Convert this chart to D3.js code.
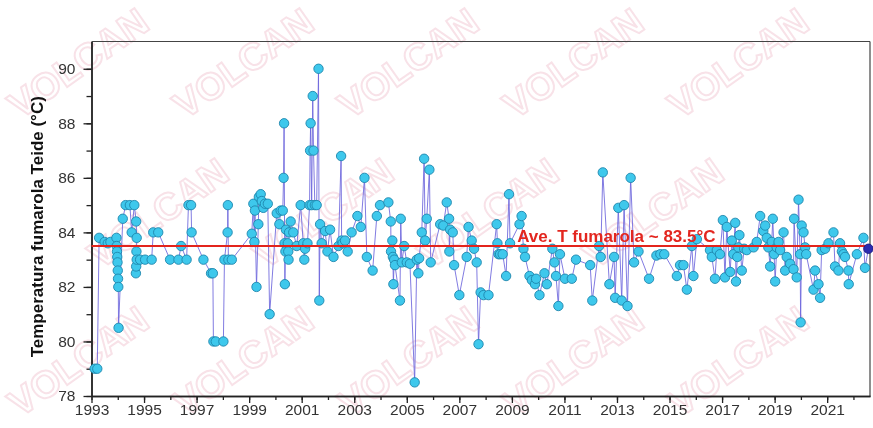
<!DOCTYPE html>
<html>
<head>
<meta charset="utf-8">
<script src="https://cdn.jsdelivr.net/npm/d3@7"></script>
<style>
  html, body { margin: 0; padding: 0; background: #ffffff; }
  svg { display: block; }
</style>
</head>
<body>
<svg id="chart" width="873" height="428"></svg>
<script>
// Fumarole temperature readings, Teide (decimal year, °C)
const sampleDates = [
  1993.12, 1993.22, 1993.29, 1993.50, 1993.62, 1993.72, 1993.95, 1993.96, 1993.97, 1993.98,
  1993.99, 1994.00, 1994.01, 1994.02, 1994.03, 1994.19, 1994.30, 1994.46, 1994.53, 1994.63,
  1994.70, 1994.72, 1994.71, 1994.69, 1994.70, 1994.72, 1994.85, 1995.04, 1995.29, 1995.35,
  1995.54, 1995.99, 1996.31, 1996.41, 1996.62, 1996.69, 1996.79, 1996.81, 1997.26, 1997.55,
  1997.62, 1997.64, 1997.73, 1998.02, 1998.06, 1998.18, 1998.19, 1998.21, 1998.34,
  1999.10, 1999.16, 1999.20, 1999.22, 1999.28, 1999.35, 1999.37, 1999.44, 1999.48, 1999.54,
  1999.60, 1999.71, 1999.78, 2000.05, 2000.15, 2000.20, 2000.28, 2000.31, 2000.33, 2000.35,
  2000.36, 2000.38, 2000.40, 2000.47, 2000.49, 2000.50, 2000.52, 2000.58, 2000.68, 2000.81,
  2000.96, 2001.06, 2001.10, 2001.13, 2001.22, 2001.30, 2001.32, 2001.34, 2001.38, 2001.42,
  2001.45, 2001.50, 2001.57, 2001.64, 2001.67, 2001.70, 2001.76, 2001.89, 2001.98, 2002.08,
  2002.21, 2002.40, 2002.50, 2002.52, 2002.56, 2002.65, 2002.75, 2002.90, 2003.12, 2003.25,
  2003.39, 2003.48, 2003.70, 2003.86, 2003.98, 2004.30, 2004.39, 2004.40, 2004.45, 2004.47,
  2004.49, 2004.52, 2004.55, 2004.74, 2004.77, 2004.81, 2004.90, 2005.00, 2005.12, 2005.30,
  2005.38, 2005.44, 2005.47, 2005.57, 2005.66, 2005.70, 2005.76, 2005.86, 2005.91, 2006.27,
  2006.39, 2006.52, 2006.61, 2006.62, 2006.65, 2006.75, 2006.80, 2007.00, 2007.28, 2007.35,
  2007.47, 2007.56, 2007.66, 2007.73, 2007.81, 2007.92, 2008.11, 2008.42, 2008.45, 2008.49,
  2008.55, 2008.65, 2008.78, 2008.89, 2008.93, 2009.29, 2009.37, 2009.44, 2009.50, 2009.67,
  2009.76, 2009.88, 2009.92, 2010.05, 2010.24, 2010.33, 2010.54, 2010.62, 2010.68, 2010.77,
  2010.83, 2011.02, 2011.28, 2011.44, 2011.98, 2012.06, 2012.32, 2012.38, 2012.46, 2012.71,
  2012.89, 2012.93, 2013.05, 2013.18, 2013.27, 2013.40, 2013.52, 2013.65, 2013.82, 2014.22,
  2014.50, 2014.65, 2014.80, 2015.28, 2015.40, 2015.53, 2015.66, 2015.85, 2015.91, 2016.04,
  2016.54, 2016.61, 2016.73, 2016.80, 2016.92, 2017.03, 2017.11, 2017.18, 2017.31, 2017.37,
  2017.43, 2017.50, 2017.53, 2017.58, 2017.62, 2017.66, 2017.75, 2017.84, 2017.94, 2018.20,
  2018.32, 2018.45, 2018.57, 2018.64, 2018.70, 2018.76, 2018.83, 2018.89, 2018.93, 2018.98,
  2019.02, 2019.08, 2019.15, 2019.21, 2019.34, 2019.40, 2019.46, 2019.59, 2019.72, 2019.74,
  2019.84, 2019.91, 2019.97, 2019.99, 2020.03, 2020.10, 2020.16, 2020.20, 2020.48, 2020.54,
  2020.67, 2020.73, 2020.79, 2020.92, 2021.05, 2021.24, 2021.30, 2021.43, 2021.49, 2021.56,
  2021.62, 2021.68, 2021.81, 2021.82, 2022.13, 2022.38, 2022.44
];
const temperatures = [
  79.0, 79.0, 83.8, 83.65, 83.6, 83.65, 83.8, 83.5, 83.3, 83.1,
  82.9, 82.6, 82.3, 82.0, 80.5, 84.5, 85.0, 85.0, 84.0, 85.0,
  84.4, 83.8, 83.3, 82.5, 82.75, 83.0, 83.0, 83.0, 83.0, 84.0,
  84.0, 83.0, 83.0, 83.5, 83.0, 85.0, 85.0, 84.0, 83.0, 82.5,
  82.5, 80.0, 80.0, 80.0, 83.0, 84.0, 85.0, 83.0, 83.0,
  83.95, 85.05, 83.65, 84.8, 82.0, 84.3, 85.3, 85.4, 85.15, 84.9,
  85.05, 85.05, 81.0, 84.7, 84.3, 84.8, 84.8, 86.0, 88.0, 83.6,
  82.1, 83.3, 84.1, 83.6, 83.3, 83.0, 84.0, 84.4, 84.0, 83.5,
  85.0, 83.6, 83.0, 83.4, 83.6, 85.0, 87.0, 88.0, 85.0, 89.0,
  87.0, 85.0, 85.0, 90.0, 81.5, 84.3, 83.6, 84.05, 83.3, 84.1,
  83.1, 83.5, 86.8, 83.7, 83.6, 83.7, 83.3, 84.0, 84.6, 84.2,
  86.0, 83.1, 82.6, 84.6, 85.0, 85.1, 84.4, 83.3, 83.7, 83.1,
  82.1, 83.0, 82.8, 81.5, 84.5, 82.9, 83.5, 82.9, 82.85, 78.5,
  83.0, 82.5, 83.05, 84.0, 86.7, 83.7, 84.5, 86.3, 82.9, 84.3,
  84.25, 85.1, 84.5, 83.3, 84.1, 84.0, 82.8, 81.7, 83.1, 84.2,
  83.7, 83.4, 82.9, 79.9, 81.8, 81.7, 81.7, 84.3, 83.6, 83.2,
  83.2, 83.2, 82.4, 85.4, 83.6, 84.3, 84.6, 83.4, 83.1, 82.4,
  82.25, 82.1, 82.3, 81.7, 82.5, 82.1, 83.4, 82.9, 82.4, 81.3,
  83.2, 82.3, 82.3, 83.0, 82.8, 81.5, 83.5, 83.1, 86.2, 82.1,
  83.1, 81.6, 84.9, 81.5, 85.0, 81.3, 86.0, 82.9, 83.3, 82.3,
  83.15, 83.2, 83.2, 82.4, 82.8, 82.8, 81.9, 83.5, 82.4, 83.75,
  83.35, 83.1, 82.3, 83.35, 83.2, 84.45, 82.35, 84.2, 82.55, 83.7,
  83.2, 84.35, 82.2, 83.1, 83.45, 83.9, 82.6, 83.4, 83.35, 83.45,
  83.65, 84.6, 84.05, 84.25, 83.8, 83.45, 82.75, 83.65, 84.5, 83.2,
  82.2, 83.45, 83.65, 83.35, 84.0, 82.6, 83.1, 82.85, 82.65, 84.5,
  82.35, 85.2, 83.2, 80.7, 84.25, 84.0, 83.45, 83.2, 81.9, 82.6,
  82.1, 81.6, 83.35, 83.4, 83.6, 84.0, 82.75, 82.6, 83.6, 83.3,
  83.2, 83.1, 82.6, 82.1, 83.2, 83.8, 82.7
];
// Most recent reading, shown in a darker colour
const latestDate = 2022.57;
const latestTemp = 83.4;
// Long-term mean temperature
const averageTemp = 83.5;
const averageLabel = "Ave. T fumarola ~ 83.5°C";
const yAxisTitle = "Temperatura fumarola Teide (°C)";
const yMajorTicks = [78, 80, 82, 84, 86, 88, 90];
const yMinorTicks = d3.range(78, 91, 1);
const xMajorTicks = d3.range(1993, 2023, 2);
const xMinorTicks = d3.range(1993, 2023, 1);
const watermarkText = "VOLCAN";

(function draw() {
  const svg = d3.select("#chart");
  const plotL = 91.5, plotR = 870, plotT = 41.5, plotB = 396;

  const x = d3.scaleLinear().domain([1993, 2022.63]).range([plotL, plotR]);
  const y = d3.scaleLinear().domain([78, 91]).range([plotB, plotT]);
  const font = "Liberation Sans, Arial, sans-serif";

  // faint background watermark, tiled diagonally
  const wm = svg.append("g").attr("opacity", 0.13);
  const tiles = [
    [20, 120], [185, 120], [350, 120], [515, 120], [680, 120],
    [100, 270], [265, 270], [430, 270], [595, 270],
    [20, 418], [185, 418], [350, 418], [515, 418], [680, 418]
  ];
  tiles.forEach(([tx, ty]) => {
    wm.append("text")
      .attr("transform", `translate(${tx},${ty}) rotate(-35)`)
      .attr("font-family", font).attr("font-weight", "bold").attr("font-size", 38)
      .attr("fill", "none").attr("stroke", "#c8204f").attr("stroke-width", 2)
      .text(watermarkText);
  });

  // frame top and right
  svg.append("line").attr("x1", plotL).attr("x2", plotR).attr("y1", plotT).attr("y2", plotT)
    .attr("stroke", "#444").attr("stroke-width", 1.2);
  svg.append("line").attr("x1", plotR).attr("x2", plotR).attr("y1", plotT).attr("y2", plotB)
    .attr("stroke", "#444").attr("stroke-width", 1.2);

  function styleAxis(g) {
    g.select(".domain").attr("stroke", "#222").attr("stroke-width", 1.4);
    g.selectAll(".tick line").attr("stroke", "#222").attr("stroke-width", 1.3);
    g.selectAll(".tick text").attr("fill", "#333").attr("font-size", "15.5px").attr("font-family", font);
  }
  svg.append("g").attr("transform", `translate(0,${plotB})`)
    .call(d3.axisBottom(x).tickValues(xMinorTicks).tickSize(4).tickSizeOuter(0).tickFormat(""))
    .call(styleAxis);
  svg.append("g").attr("transform", `translate(0,${plotB})`)
    .call(d3.axisBottom(x).tickValues(xMajorTicks).tickSize(7).tickSizeOuter(0).tickPadding(1).tickFormat(d3.format("d")))
    .call(styleAxis);
  svg.append("g").attr("transform", `translate(${plotL},0)`)
    .call(d3.axisLeft(y).tickValues(yMinorTicks).tickSize(5).tickSizeOuter(0).tickFormat(""))
    .call(styleAxis);
  svg.append("g").attr("transform", `translate(${plotL},0)`)
    .call(d3.axisLeft(y).tickValues(yMajorTicks).tickSize(8).tickSizeOuter(0).tickPadding(8))
    .call(styleAxis);

  // y axis title
  svg.append("text")
    .attr("transform", `translate(37,${(plotT + plotB) / 2 + 8}) rotate(-90)`)
    .attr("text-anchor", "middle").attr("dominant-baseline", "central")
    .attr("font-family", font).attr("font-weight", "bold").attr("font-size", "17px")
    .attr("fill", "#111").text(yAxisTitle);

  // series line and markers
  const readings = sampleDates.map((d, i) => ({ t: d, v: temperatures[i] }));
  const line = d3.line().x(d => x(d.t)).y(d => y(d.v));
  svg.append("path").datum(readings.concat([{ t: latestDate, v: latestTemp }]))
    .attr("d", line).attr("fill", "none")
    .attr("stroke", "#6b64dc").attr("stroke-opacity", 0.85).attr("stroke-width", 1);

  svg.append("g").selectAll("circle").data(readings).join("circle")
    .attr("cx", d => x(d.t)).attr("cy", d => y(d.v)).attr("r", 4.7)
    .attr("fill", "#3ec8ec").attr("stroke", "#1e86ad").attr("stroke-width", 0.9);

  // average line and label
  svg.append("line").attr("x1", plotL).attr("x2", plotR)
    .attr("y1", y(averageTemp)).attr("y2", y(averageTemp))
    .attr("stroke", "#e3241c").attr("stroke-width", 2);
  svg.append("text").attr("x", x(2009.2)).attr("y", y(averageTemp) - 4)
    .attr("font-family", font).attr("font-weight", "bold").attr("font-size", "17px")
    .attr("fill", "#e3261f").text(averageLabel);

  svg.append("circle").attr("cx", x(latestDate)).attr("cy", y(latestTemp)).attr("r", 4.7)
    .attr("fill", "#2b2bb0").attr("stroke", "#1a1a80").attr("stroke-width", 0.9);
})();
</script>
</body>
</html>
